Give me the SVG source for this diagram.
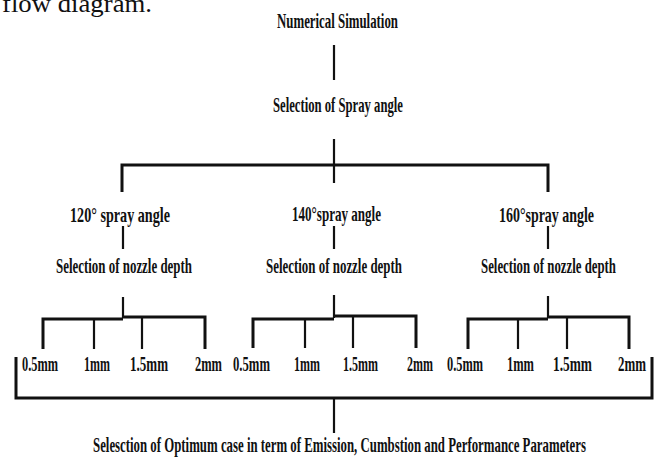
<svg xmlns="http://www.w3.org/2000/svg" width="656" height="462" viewBox="0 0 656 462">
<style>
.t{font-family:"Liberation Serif","Times New Roman",serif;font-weight:bold;font-size:21px;fill:#111;text-anchor:start}
.cap{font-family:"Liberation Serif","Times New Roman",serif;font-size:25px;fill:#111}
.ln{stroke:#111;stroke-width:2.2;fill:none;stroke-linecap:butt}
.bar{stroke:#111;stroke-width:3;fill:none}
</style>
<rect width="656" height="462" fill="#fff"/>
<text class="cap" x="2" y="12" textLength="150" lengthAdjust="spacingAndGlyphs">flow diagram.</text>

<g id="connectors">
  <line class="ln" x1="334" y1="45" x2="334" y2="80"/>
  <polyline class="bar" points="122,192 122,165 548,165 548,192"/>
  <line class="ln" x1="334" y1="139" x2="334" y2="183"/>
  <line class="ln" x1="123" y1="226" x2="123" y2="249"/>
  <line class="ln" x1="334" y1="226" x2="334" y2="249"/>
  <line class="ln" x1="548" y1="226" x2="548" y2="249"/>
  <!-- group 1 -->
  <line class="ln" x1="123" y1="297" x2="123" y2="318"/>
  <polyline class="bar" points="43,349 43,319 123,319"/>
  <polyline class="bar" points="123,317 205,317 205,349"/>
  <line class="ln" x1="94" y1="319" x2="94" y2="349"/>
  <line class="ln" x1="142" y1="317" x2="142" y2="349"/>
  <!-- group 2 -->
  <line class="ln" x1="334" y1="295" x2="334" y2="318"/>
  <polyline class="bar" points="253,348 253,319 334,319"/>
  <polyline class="bar" points="334,316 416,316 416,348"/>
  <line class="ln" x1="305" y1="319" x2="305" y2="348"/>
  <line class="ln" x1="353" y1="316" x2="353" y2="348"/>
  <!-- group 3 -->
  <line class="ln" x1="548" y1="296" x2="548" y2="318"/>
  <polyline class="bar" points="468,349 468,319 548,319"/>
  <polyline class="bar" points="548,317 629,317 629,349"/>
  <line class="ln" x1="518" y1="319" x2="518" y2="349"/>
  <line class="ln" x1="567" y1="317" x2="567" y2="349"/>
  <!-- big bracket -->
  <polyline class="bar" points="16,357 16,398 652,398 652,357"/>
  <line class="ln" x1="334" y1="398" x2="334" y2="433"/>
</g>

<g id="n-numerical"><text class="t" x="277" y="28" textLength="121" lengthAdjust="spacingAndGlyphs">Numerical Simulation</text></g>
<g id="n-spray-sel"><text class="t" x="273" y="112" textLength="130" lengthAdjust="spacingAndGlyphs">Selection of Spray angle</text></g>

<g id="n-120"><text class="t" x="70" y="222" textLength="100" lengthAdjust="spacingAndGlyphs">120° spray angle</text></g>
<g id="n-140"><text class="t" x="292" y="221" textLength="89" lengthAdjust="spacingAndGlyphs">140°spray angle</text></g>
<g id="n-160"><text class="t" x="499" y="222" textLength="95" lengthAdjust="spacingAndGlyphs">160°spray angle</text></g>

<g id="n-nozzle1"><text class="t" x="56" y="273" textLength="136" lengthAdjust="spacingAndGlyphs">Selection of nozzle depth</text></g>
<g id="n-nozzle2"><text class="t" x="266" y="273" textLength="136" lengthAdjust="spacingAndGlyphs">Selection of nozzle depth</text></g>
<g id="n-nozzle3"><text class="t" x="481" y="273" textLength="135" lengthAdjust="spacingAndGlyphs">Selection of nozzle depth</text></g>

<g id="n-g1-05"><text class="t" x="22" y="371" textLength="36" lengthAdjust="spacingAndGlyphs">0.5mm</text></g>
<g id="n-g1-1"><text class="t" x="84" y="371" textLength="26" lengthAdjust="spacingAndGlyphs">1mm</text></g>
<g id="n-g1-15"><text class="t" x="130" y="371" textLength="38" lengthAdjust="spacingAndGlyphs">1.5mm</text></g>
<g id="n-g1-2"><text class="t" x="195" y="371" textLength="27" lengthAdjust="spacingAndGlyphs">2mm</text></g>

<g id="n-g2-05"><text class="t" x="233" y="371" textLength="37" lengthAdjust="spacingAndGlyphs">0.5mm</text></g>
<g id="n-g2-1"><text class="t" x="294" y="371" textLength="26" lengthAdjust="spacingAndGlyphs">1mm</text></g>
<g id="n-g2-15"><text class="t" x="343" y="371" textLength="35" lengthAdjust="spacingAndGlyphs">1.5mm</text></g>
<g id="n-g2-2"><text class="t" x="407" y="371" textLength="26" lengthAdjust="spacingAndGlyphs">2mm</text></g>

<g id="n-g3-05"><text class="t" x="447" y="371" textLength="36" lengthAdjust="spacingAndGlyphs">0.5mm</text></g>
<g id="n-g3-1"><text class="t" x="507" y="371" textLength="27" lengthAdjust="spacingAndGlyphs">1mm</text></g>
<g id="n-g3-15"><text class="t" x="553" y="371" textLength="39" lengthAdjust="spacingAndGlyphs">1.5mm</text></g>
<g id="n-g3-2"><text class="t" x="618" y="371" textLength="28" lengthAdjust="spacingAndGlyphs">2mm</text></g>

<g id="n-optimum"><text class="t" x="93" y="452" font-size="22" textLength="493" lengthAdjust="spacingAndGlyphs">Selesction of Optimum case in term of Emission, Cumbstion and Performance Parameters</text></g>
</svg>
